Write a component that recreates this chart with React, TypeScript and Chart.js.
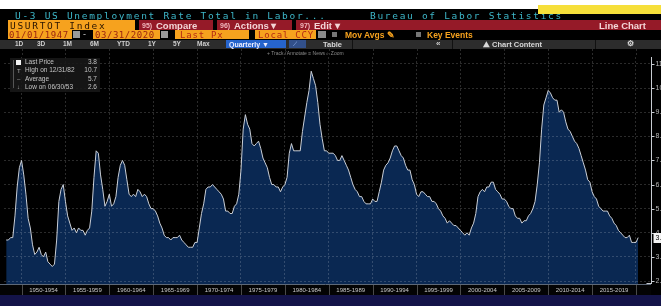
import React, { useEffect, useRef } from "react";
import { Chart, registerables } from "chart.js";

Chart.register(...registerables);

// Quarterly U-3 unemployment rate (%), quarter ends, starting 1948 Q1
const FIRST_YEAR = 1948;
const rate1948_1949 = [3.7, 3.7, 3.8, 3.8, 4.7, 5.9, 6.7, 7.0];
const rate1950s = [
  6.4, 5.6, 4.6, 4.2, 3.5, 3.1, 3.2, 3.4, 3.1, 3.0, 3.2, 2.8, 2.7, 2.6, 2.7, 3.7,
  5.3, 5.8, 6.0, 5.3, 4.7, 4.4, 4.1, 4.2, 4.0, 4.2, 4.1, 4.1, 3.9, 4.1, 4.2, 4.9,
  6.3, 7.4, 7.3, 6.4, 5.8, 5.1, 5.3, 5.6,
];
const rate1960s = [
  5.1, 5.2, 5.5, 6.3, 6.8, 7.0, 6.8, 6.2, 5.6, 5.5, 5.6, 5.5, 5.8, 5.7, 5.5, 5.6,
  5.5, 5.2, 5.0, 5.0, 4.9, 4.7, 4.4, 4.2, 3.9, 3.8, 3.8, 3.7, 3.8, 3.8, 3.8, 3.9,
  3.7, 3.6, 3.5, 3.4, 3.4, 3.4, 3.6, 3.6,
];
const rate1970s = [
  4.2, 4.8, 5.2, 5.8, 5.9, 5.9, 6.0, 5.9, 5.8, 5.7, 5.6, 5.4, 4.9, 4.9, 4.8, 4.8,
  5.1, 5.2, 5.6, 6.6, 8.3, 8.9, 8.5, 8.3, 7.7, 7.6, 7.7, 7.8, 7.5, 7.1, 6.9, 6.7,
  6.3, 6.0, 6.0, 5.9, 5.9, 5.7, 5.9, 6.0,
];
const rate1980s = [
  6.3, 7.3, 7.7, 7.4, 7.4, 7.4, 7.4, 8.2, 8.8, 9.4, 9.9, 10.7, 10.4, 10.1, 9.4, 8.5,
  7.9, 7.4, 7.4, 7.3, 7.3, 7.3, 7.2, 7.0, 7.0, 7.2, 7.0, 6.8, 6.6, 6.3, 6.0, 5.8,
  5.7, 5.5, 5.5, 5.3, 5.2, 5.2, 5.2, 5.4,
];
const rate1990s = [
  5.3, 5.3, 5.7, 6.1, 6.6, 6.8, 6.9, 7.1, 7.4, 7.6, 7.6, 7.4, 7.2, 7.1, 6.8, 6.6,
  6.6, 6.2, 6.0, 5.6, 5.5, 5.7, 5.7, 5.6, 5.5, 5.5, 5.3, 5.3, 5.2, 5.0, 4.9, 4.7,
  4.6, 4.4, 4.5, 4.4, 4.3, 4.3, 4.2, 4.1,
];
const rate2000s = [
  4.0, 3.9, 4.0, 3.9, 4.2, 4.4, 4.8, 5.5, 5.7, 5.8, 5.7, 5.9, 5.9, 6.1, 6.1, 5.8,
  5.7, 5.6, 5.4, 5.4, 5.3, 5.1, 5.0, 5.0, 4.7, 4.6, 4.6, 4.4, 4.5, 4.5, 4.7, 4.8,
  5.0, 5.3, 6.0, 6.9, 8.3, 9.3, 9.6, 9.9,
];
const rate2010s = [
  9.8, 9.6, 9.5, 9.5, 9.0, 9.1, 9.0, 8.6, 8.3, 8.2, 8.0, 7.8, 7.7, 7.5, 7.2, 6.9,
  6.6, 6.2, 6.1, 5.7, 5.5, 5.4, 5.1, 5.0, 4.9, 4.9, 4.9, 4.7, 4.6, 4.4, 4.3, 4.1,
  4.0, 3.9, 3.8, 3.8, 3.9, 3.6, 3.6, 3.6,
];
const rate2020 = [3.8];

const quarterlyRates = [
  ...rate1948_1949, ...rate1950s, ...rate1960s, ...rate1970s,
  ...rate1980s, ...rate1990s, ...rate2000s, ...rate2010s, ...rate2020,
];

const gridYears = [1950, 1955, 1960, 1965, 1970, 1975, 1980, 1985, 1990, 1995, 2000, 2005, 2010, 2015, 2020];
const periodLabels = [
  "1950-1954", "1955-1959", "1960-1964", "1965-1969", "1970-1974", "1975-1979", "1980-1984",
  "1985-1989", "1990-1994", "1995-1999", "2000-2004", "2005-2009", "2010-2014", "2015-2019",
];
const yTicks = [2, 3, 4, 5, 6, 7, 8, 9, 10, 11];
const lastPrice = 3.8;
const statLabels = ["Last Price", "High on 12/31/82", "Average", "Low on 06/30/53"];
const statValues = ["3.8", "10.7", "5.7", "2.6"];

const GRID = "rgba(255,255,255,0.17)";
const ORANGE = "#f6a21e";
const RED = "#951a28";

const framePlugin = {
  id: "bbgFrame",
  beforeDraw(chart: any) {
    const { ctx, width, height } = chart;
    ctx.save();
    ctx.fillStyle = "#000";
    ctx.fillRect(0, 0, width, height);
    ctx.restore();
  },
  afterDraw(chart: any) {
    const { ctx, chartArea, scales, width, height } = chart;
    const xs = scales.x;
    const ys = scales.y;
    ctx.save();
    ctx.strokeStyle = GRID;
    ctx.lineWidth = 1;
    ctx.setLineDash([2, 2]);
    gridYears.forEach((yr) => {
      const px = Math.round(xs.getPixelForValue(yr)) + 0.5;
      ctx.beginPath();
      ctx.moveTo(px, 49);
      ctx.lineTo(px, chartArea.top);
      ctx.stroke();
    });
    ctx.setLineDash([]);

    const rowTop = Math.round(chartArea.bottom) + 1;
    const rowH = 10;
    ctx.fillStyle = "#040404";
    ctx.fillRect(0, rowTop, Math.round(chartArea.right), rowH);
    ctx.fillStyle = "#141449";
    ctx.fillRect(0, rowTop + rowH, width, height - rowTop - rowH);
    ctx.strokeStyle = "#5d6877";
    ctx.beginPath();
    ctx.moveTo(0, rowTop - 0.5);
    ctx.lineTo(chartArea.right, rowTop - 0.5);
    ctx.stroke();
    ctx.strokeStyle = "#4a4a4a";
    gridYears.forEach((yr) => {
      const px = Math.round(xs.getPixelForValue(yr)) + 0.5;
      ctx.beginPath();
      ctx.moveTo(px, rowTop);
      ctx.lineTo(px, rowTop + rowH);
      ctx.stroke();
    });
    ctx.font = "6px 'Liberation Sans', Arial, sans-serif";
    ctx.fillStyle = "#c9c9c9";
    ctx.textAlign = "center";
    ctx.textBaseline = "middle";
    periodLabels.forEach((lab, i) => {
      const px = xs.getPixelForValue(gridYears[i] + 2.5);
      ctx.fillText(lab, px, rowTop + rowH / 2 + 0.5);
    });

    const ax = Math.round(chartArea.right) + 0.5;
    ctx.strokeStyle = "#c8ccd2";
    ctx.beginPath();
    ctx.moveTo(ax, chartArea.top);
    ctx.lineTo(ax, chartArea.bottom);
    ctx.moveTo(ax - 5, Math.round(chartArea.bottom) - 0.5);
    ctx.lineTo(ax, Math.round(chartArea.bottom) - 0.5);
    ctx.stroke();
    ctx.font = "7px 'Liberation Sans', Arial, sans-serif";
    ctx.textAlign = "left";
    ctx.fillStyle = "#b8b8b8";
    yTicks.forEach((v) => {
      const py = Math.round(ys.getPixelForValue(v)) + 0.5;
      ctx.beginPath();
      ctx.moveTo(ax, py);
      ctx.lineTo(ax + 3, py);
      ctx.stroke();
      ctx.fillText(v.toFixed(1), ax + 4, py);
    });
    const lp = ys.getPixelForValue(lastPrice);
    ctx.fillStyle = "#f2f2f2";
    ctx.fillRect(ax + 2, Math.round(lp) - 5, 14, 10);
    ctx.fillStyle = "#000";
    ctx.fillText(lastPrice.toFixed(1), ax + 4, lp + 0.5);
    ctx.restore();
  },
};

const abs = (l: number, t: number, w: number, h: number, extra: any = {}) => ({
  position: "absolute" as const, left: l, top: t, width: w, height: h, ...extra,
});

const mono = "'DejaVu Sans Mono', 'Liberation Mono', monospace";
const sans = "'Liberation Sans', Arial, sans-serif";

function Txt({ x, y, size, color, children, font = sans, bold = false, ls = 0 }: any) {
  return (
    <div style={{ position: "absolute", left: x, top: y, fontSize: size, lineHeight: "1", color, fontFamily: font, fontWeight: bold ? 700 : 400, letterSpacing: ls, whiteSpace: "nowrap" }}>
      {children}
    </div>
  );
}

export default function App() {
  const ref = useRef<HTMLCanvasElement | null>(null);
  useEffect(() => {
    document.body.style.margin = "0";
    const points = quarterlyRates.map((v, i) => ({ x: FIRST_YEAR + (i + 1) / 4, y: v }));
    const chart = new Chart(ref.current as HTMLCanvasElement, {
      type: "line",
      data: {
        datasets: [
          {
            data: points,
            borderColor: "#c9ced6",
            borderWidth: 1,
            backgroundColor: "rgb(10,40,82)",
            fill: "start",
            pointRadius: 0,
            tension: 0,
          },
        ],
      },
      options: {
        responsive: false,
        animation: false,
        devicePixelRatio: 1,
        layout: { padding: { top: 57, left: 4, right: 10, bottom: 22 } },
        plugins: { legend: { display: false }, tooltip: { enabled: false } },
        scales: {
          x: {
            type: "linear",
            min: 1948,
            max: 2021.71,
            afterBuildTicks: (s: any) => { s.ticks = gridYears.map((v) => ({ value: v })); },
            ticks: { display: false },
            grid: { color: GRID, drawTicks: false, z: 1 },
            border: { display: false, dash: [2, 2] },
          },
          y: {
            type: "linear",
            min: 1.876,
            max: 11.29,
            afterBuildTicks: (s: any) => { s.ticks = yTicks.map((v) => ({ value: v })); },
            ticks: { display: false },
            grid: { color: GRID, drawTicks: false, z: 1 },
            border: { display: false, dash: [2, 2] },
          },
        },
      } as any,
      plugins: [framePlugin],
    });
    return () => chart.destroy();
  }, []);

  const btn = ["1D", "3D", "1M", "6M", "YTD", "1Y", "5Y", "Max"];
  const btnX = [15, 37, 63, 90, 117, 148, 173, 197];

  return (
    <div style={{ position: "fixed", left: 0, top: 0, width: 661, height: 306, overflow: "hidden", background: "#000" }}>
      <canvas ref={ref} width={661} height={306} style={{ position: "absolute", left: 0, top: 0, display: "block" }} />
      <div style={abs(0, 0, 661, 9, { background: "#fff" })} />
      <div style={abs(0, 9, 661, 11, { background: "#000" })} />
      <Txt x={15} y={10.5} size={9.5} color="#3db6c8" font={mono} ls={1.7}>U-3 US Unemployment Rate Total in Labor...</Txt>
      <Txt x={370} y={10.5} size={9.5} color="#3db6c8" font={mono} ls={1.7}>Bureau of Labor Statistics</Txt>
      <div style={abs(538, 5, 123, 9, { background: "#f6df3a" })} />
      <div style={abs(8, 20, 127, 9.5, { background: ORANGE })} />
      <Txt x={10} y={20.5} size={9.5} color="#2a1400" font={mono} ls={1.7}>USURTOT Index</Txt>
      <div style={abs(139, 20, 74, 9.5, { background: RED })} />
      <div style={abs(217, 20, 75, 9.5, { background: RED })} />
      <div style={abs(296, 20, 365, 9.5, { background: RED })} />
      <Txt x={142} y={21.5} size={7} color="#f0b6bc" bold>95)</Txt>
      <Txt x={156} y={20.5} size={9.5} color="#f3d4d6" bold>Compare</Txt>
      <Txt x={220} y={21.5} size={7} color="#f0b6bc" bold>96)</Txt>
      <Txt x={234} y={20.5} size={9.5} color="#f3d4d6" bold>Actions ▾</Txt>
      <Txt x={300} y={21.5} size={7} color="#f0b6bc" bold>97)</Txt>
      <Txt x={314} y={20.5} size={9.5} color="#f3d4d6" bold>Edit ▾</Txt>
      <Txt x={599} y={20.5} size={9.5} color="#f3d4d6" bold>Line Chart</Txt>
      <div style={abs(8, 30, 64, 9, { background: ORANGE })} />
      <Txt x={9} y={30.5} size={9} color="#9a2410" font={mono} ls={0.55}>01/01/1947</Txt>
      <div style={abs(73, 31, 7, 7, { background: "#9a9a9a" })} />
      <Txt x={83} y={30} size={9} color="#ccc">-</Txt>
      <div style={abs(93, 30, 67, 9, { background: ORANGE })} />
      <Txt x={95} y={30.5} size={9} color="#9a2410" font={mono} ls={0.55}>03/31/2020</Txt>
      <div style={abs(161, 31, 7, 7, { background: "#9a9a9a" })} />
      <div style={abs(175, 30, 74, 9, { background: ORANGE })} />
      <Txt x={180} y={30.5} size={9} color="#b52a14" font={mono} ls={0.8}>Last Px</Txt>
      <div style={abs(255, 30, 61, 9, { background: ORANGE })} />
      <Txt x={258} y={30.5} size={9} color="#b52a14" font={mono} ls={0.8}>Local CCY</Txt>
      <div style={abs(318, 31, 8, 7, { background: "#8a8a8a" })} />
      <div style={abs(332, 32, 5, 5, { background: "#777" })} />
      <Txt x={345} y={30.5} size={8.5} color={ORANGE} bold>Mov Avgs ✎</Txt>
      <div style={abs(416, 32, 5, 5, { background: "#777" })} />
      <Txt x={427} y={30.5} size={8.5} color={ORANGE} bold>Key Events</Txt>
      <div style={abs(0, 39.5, 661, 9, { background: "#2c2c2c" })} />
      <div style={abs(352, 39.5, 1, 9, { background: "#111" })} />
      <div style={abs(452, 39.5, 1, 9, { background: "#111" })} />
      <div style={abs(595, 39.5, 1, 9, { background: "#111" })} />
      {btn.map((b, i) => (
        <Txt key={b} x={btnX[i]} y={41} size={6.5} color="#cfcfcf" bold>{b}</Txt>
      ))}
      <div style={abs(226, 40, 60, 8, { background: "#2664cc" })} />
      <Txt x={229} y={41} size={7} color="#eef" bold>Quarterly ▼</Txt>
      <div style={abs(289, 40, 17, 8, { background: "#32508a" })} />
      <Txt x={293} y={41} size={6} color="#9fc0ff">⟋</Txt>
      <Txt x={323} y={40.5} size={7.5} color="#d8d8d8" bold>Table</Txt>
      <Txt x={436} y={40} size={8} color="#cfcfcf" bold>«</Txt>
      <Txt x={483} y={40.5} size={7.5} color="#d8d8d8" bold>⛰ Chart Content</Txt>
      <Txt x={627} y={40} size={7.5} color="#d8d8d8" bold>⚙</Txt>
      <Txt x={267} y={50.5} size={5} color="#8a8a8a">+ Track ⁄ Annotate ≡ News ⌕ Zoom</Txt>
      <div style={abs(10, 58, 90, 34, { background: "rgba(24,24,24,0.88)" })} />
      <div style={abs(13, 60, 1, 28, { background: "#555" })} />
      <div style={abs(16, 59.5, 5, 5, { background: "#f4f4f4" })} />
      <Txt x={17} y={67.5} size={6} color="#aaa">T</Txt>
      <Txt x={17} y={75.5} size={6} color="#aaa">–</Txt>
      <Txt x={17} y={83.5} size={6} color="#aaa">↓</Txt>
      {statLabels.map((s, i) => (
        <Txt key={s} x={25} y={59 + i * 8.3} size={6.5} color="#c4c4c4">{s}</Txt>
      ))}
      {statValues.map((v, i) => (
        <div key={i} style={{ position: "absolute", left: 70, width: 27, top: 59 + i * 8.3, textAlign: "right", fontSize: 6.5, lineHeight: "1", color: "#c4c4c4", fontFamily: sans }}>{v}</div>
      ))}
    </div>
  );
}
